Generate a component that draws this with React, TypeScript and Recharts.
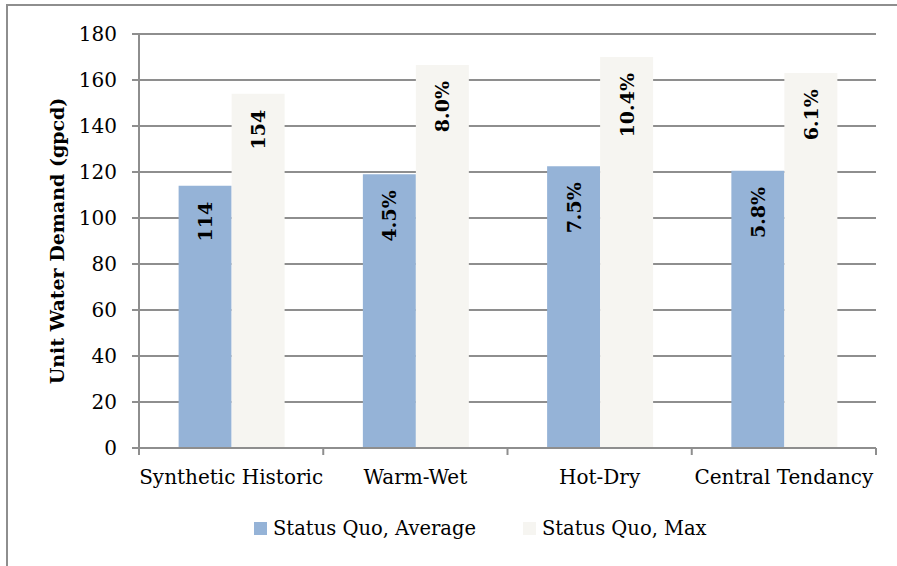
import { BarChart, Bar, XAxis, YAxis, CartesianGrid, LabelList } from 'recharts'

const CATEGORIES = ['Synthetic Historic', 'Warm-Wet', 'Hot-Dry', 'Central Tendancy']
const AVG_VALUES = [114, 119, 122.5, 120.5]
const MAX_VALUES = [154, 166.5, 170, 163]
const AVG_LABELS = ['114', '4.5%', '7.5%', '5.8%']
const MAX_LABELS = ['154', '8.0%', '10.4%', '6.1%']
const SERIES_NAMES = ['Status Quo, Average', 'Status Quo, Max']
const Y_TICKS = [0, 20, 40, 60, 80, 100, 120, 140, 160, 180]

const BLUE = '#95b3d7'
const CREAM = '#f6f5f1'
const GRID = '#8e8e8e'
const FONT = '"DejaVu Serif", "Liberation Serif", serif'
const SERIES_COLORS = [BLUE, CREAM]

const data = CATEGORIES.map((name, i) => ({
  name,
  avg: AVG_VALUES[i],
  max: MAX_VALUES[i],
  avgLabel: AVG_LABELS[i],
  maxLabel: MAX_LABELS[i],
}))

// rotated bold value written just under the top of each bar
function BarTag(props: any) {
  const { x, y, width, value } = props
  const cx = Number(x) + Number(width) / 2
  const ty = Number(y) + 16
  return (
    <text
      x={cx}
      y={ty}
      transform={`rotate(-90, ${cx}, ${ty})`}
      textAnchor="end"
      dominantBaseline="central"
      fontFamily={FONT}
      fontWeight="bold"
      fontSize={19}
      fill="#000"
    >
      {value}
    </text>
  )
}

// category label centered, tick marks on the category boundaries
function CategoryTick(props: any) {
  const { x, y, payload, index, width } = props
  const half = payload?.offset ?? width / CATEGORIES.length / 2
  const top = y - 7
  return (
    <g>
      <line x1={x - half} x2={x - half} y1={top} y2={y} stroke={GRID} strokeWidth={2} />
      {index === CATEGORIES.length - 1 && (
        <line x1={x + half} x2={x + half} y1={top} y2={y} stroke={GRID} strokeWidth={2} />
      )}
      <text x={x} y={y + 29} textAnchor="middle" fontFamily={FONT} fontSize={20} fill="#000">
        {payload.value}
      </text>
    </g>
  )
}

export default function App() {
  return (
    <div style={{ position: 'fixed', left: 0, top: 0, width: 897, height: 566, overflow: 'hidden', background: '#fff' }}>
      <BarChart
        width={897}
        height={566}
        data={data}
        margin={{ top: 34, right: 21, left: 40, bottom: 88 }}
        barCategoryGap="21.5%"
        barGap={0}
      >
        <CartesianGrid vertical={false} stroke={GRID} strokeWidth={2} />
        <XAxis
          dataKey="name"
          interval={0}
          height={30}
          tickSize={7}
          tickMargin={0}
          tickLine={false}
          axisLine={{ stroke: GRID, strokeWidth: 2 }}
          tick={<CategoryTick />}
        />
        <YAxis
          width={99}
          domain={[0, 180]}
          ticks={Y_TICKS}
          interval={0}
          tickSize={7}
          tickMargin={15}
          axisLine={{ stroke: GRID, strokeWidth: 2 }}
          tickLine={{ stroke: GRID, strokeWidth: 2 }}
          tick={{ fill: '#000', fontSize: 20, fontFamily: FONT }}
          label={{
            value: 'Unit Water Demand (gpcd)',
            angle: -90,
            position: 'insideLeft',
            offset: 17,
            style: { textAnchor: 'middle', fill: '#000', fontSize: 19, fontWeight: 'bold', fontFamily: FONT },
          }}
        />
        <Bar dataKey="avg" name={SERIES_NAMES[0]} fill={BLUE} isAnimationActive={false}>
          <LabelList dataKey="avgLabel" content={<BarTag />} />
        </Bar>
        <Bar dataKey="max" name={SERIES_NAMES[1]} fill={CREAM} isAnimationActive={false}>
          <LabelList dataKey="maxLabel" content={<BarTag />} />
        </Bar>
      </BarChart>
      <div
        style={{
          position: 'absolute',
          left: 254,
          top: 517,
          display: 'flex',
          fontFamily: FONT,
          fontSize: 19.5,
          color: '#000',
        }}
      >
        {SERIES_NAMES.map((name, i) => (
          <div key={name} style={{ display: 'flex', alignItems: 'center', marginRight: i === 0 ? 47 : 0 }}>
            <span style={{ width: 13, height: 13, background: SERIES_COLORS[i], marginRight: 6, display: 'inline-block' }} />
            <span>{name}</span>
          </div>
        ))}
      </div>
      {/* chart-area frame: only its top and left edges fall inside the picture */}
      <div style={{ position: 'absolute', left: 6, top: 4, width: 1000, height: 2, background: GRID }} />
      <div style={{ position: 'absolute', left: 6, top: 4, width: 2, height: 1000, background: GRID }} />
    </div>
  )
}
